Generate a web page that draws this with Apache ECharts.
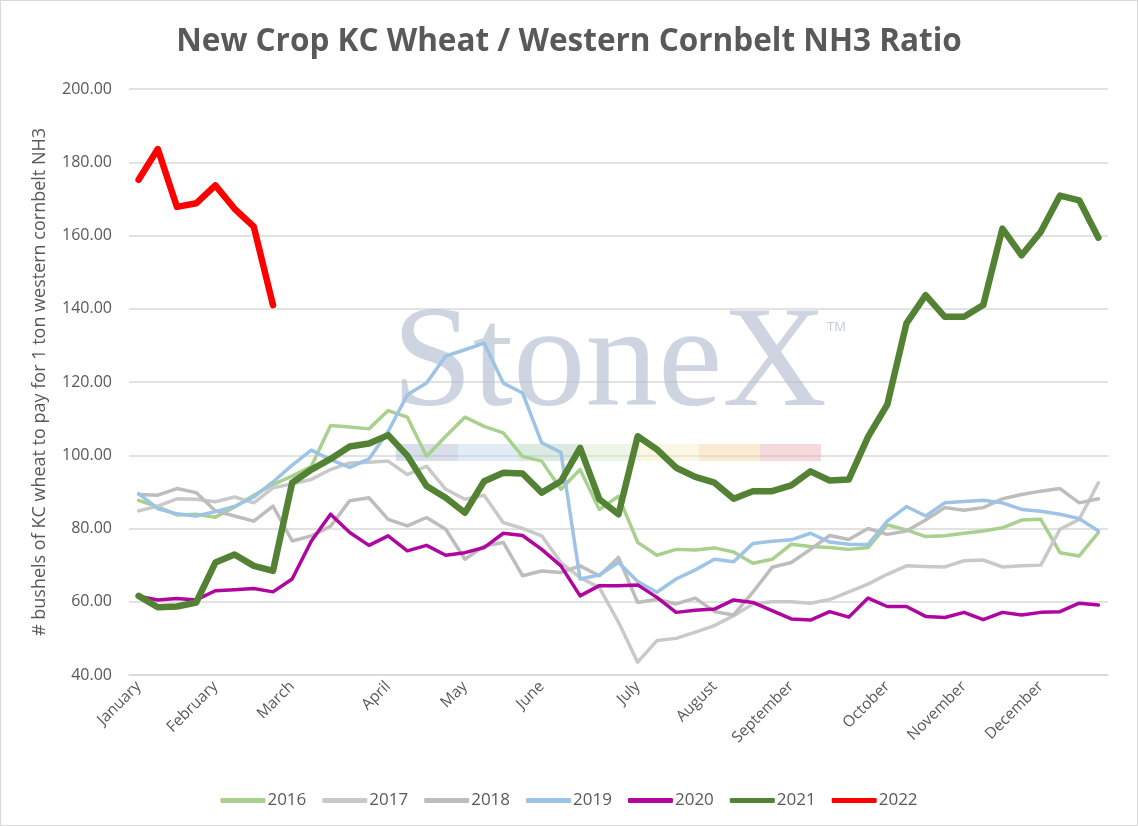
<!DOCTYPE html>
<html>
<head>
<meta charset="utf-8">
<title>New Crop KC Wheat / Western Cornbelt NH3 Ratio</title>
<script src="https://cdn.jsdelivr.net/npm/echarts@6/dist/echarts.min.js"></script>
<style>
    html, body { margin: 0; padding: 0; background: #fff; }
    #main { width: 1138px; height: 826px; box-sizing: border-box; border: 1px solid #d9d9d9; }
</style>
</head>
<body>
<!-- 图表容器 -->
<div id="main"></div>

<script type="text/javascript">

    // 月份标签 及 每个月第一周所在的类目序号
    var months = ['January', 'February', 'March', 'April', 'May', 'June',
        'July', 'August', 'September', 'October', 'November', 'December'];
    var monthStartWeek = [0, 4, 8, 13, 17, 21, 26, 30, 34, 39, 43, 47];
    var weekCount = 51;

    // y轴刻度
    var yMin = 40, yMax = 200, yStep = 20;

    // 各年份数据 (每周一个点)
    var y2016 = [87.7, 85.9, 83.7, 83.9, 83.1, 85.9, 89.1, 92.0, 94.3, 97.0,
        108.1, 107.7, 107.2, 112.2, 110.4, 99.7, 105.2, 110.4, 107.9, 106.1,
        99.7, 98.4, 90.7, 96.1, 85.2, 88.8, 76.2, 72.7, 74.3, 74.1,
        74.7, 73.6, 70.5, 71.6, 75.7, 75.1, 74.8, 74.3, 74.8, 81.0,
        79.6, 77.8, 78.0, 78.7, 79.3, 80.2, 82.3, 82.5, 73.4, 72.5, 78.9];
    var y2017 = [84.8, 86.1, 88.1, 88.0, 87.3, 88.6, 87.0, 91.1, 92.2, 93.4,
        96.1, 97.9, 98.1, 98.4, 94.7, 97.0, 90.7, 88.0, 89.1, 81.6,
        80.0, 78.0, 70.7, 66.6, 63.9, 54.4, 43.5, 49.4, 50.0, 51.7,
        53.5, 56.2, 59.4, 60.0, 60.0, 59.6, 60.6, 62.7, 64.8, 67.5,
        69.8, 69.6, 69.5, 71.2, 71.4, 69.5, 69.8, 70.0, 79.8, 82.5, 92.5];
    var y2018 = [89.3, 89.1, 90.9, 89.8, 84.8, 83.4, 82.0, 86.1, 76.6, 78.0,
        80.6, 87.6, 88.4, 82.5, 80.7, 83.0, 79.8, 71.6, 75.2, 76.2,
        67.1, 68.4, 68.0, 69.8, 67.1, 72.1, 59.8, 60.7, 59.4, 61.0,
        57.3, 56.4, 62.6, 69.4, 70.7, 74.3, 78.1, 77.0, 80.0, 78.4,
        79.3, 82.3, 85.7, 85.0, 85.7, 88.1, 89.3, 90.2, 90.9, 87.0, 88.1];
    var y2019 = [89.5, 85.4, 84.0, 83.4, 84.6, 86.0, 88.6, 92.7, 97.3, 101.4,
        98.8, 96.7, 99.0, 106.5, 116.5, 119.7, 127.1, 128.8, 130.6, 119.7,
        117.0, 103.4, 100.8, 66.2, 67.3, 70.7, 65.5, 62.6, 66.2, 68.7,
        71.6, 70.9, 75.9, 76.5, 76.9, 78.7, 76.3, 75.7, 75.6, 82.0,
        86.0, 83.4, 87.0, 87.4, 87.7, 87.0, 85.2, 84.7, 83.9, 82.7, 79.3];
    var y2020 = [61.5, 60.5, 60.9, 60.5, 63.0, 63.3, 63.6, 62.7, 66.2, 76.6,
        83.9, 78.9, 75.4, 78.0, 73.9, 75.4, 72.7, 73.4, 74.8, 78.7,
        78.1, 74.3, 69.8, 61.6, 64.4, 64.4, 64.6, 61.2, 57.1, 57.7,
        58.0, 60.5, 59.8, 57.6, 55.3, 55.0, 57.3, 55.8, 61.0, 58.7,
        58.7, 56.0, 55.7, 57.1, 55.1, 57.1, 56.4, 57.1, 57.3, 59.6, 59.1];
    var y2021 = [61.6, 58.5, 58.7, 59.8, 70.7, 72.9, 69.8, 68.4, 92.5, 96.1,
        99.0, 102.4, 103.2, 105.5, 99.9, 91.6, 88.4, 84.3, 92.9, 95.2,
        95.0, 89.8, 92.9, 102.0, 88.0, 83.9, 105.2, 101.6, 96.6, 94.1,
        92.5, 88.1, 90.2, 90.2, 91.8, 95.6, 93.1, 93.4, 105.0, 113.8,
        136.0, 143.7, 137.8, 137.8, 141.0, 161.9, 154.6, 161.0, 170.9, 169.6, 159.4];
    var y2022 = [175.2, 183.6, 167.8, 168.8, 173.7, 167.3, 162.4, 141.0];

    // 类目: 每周一个, 只在每月第一周显示月份名
    var categories = [];
    for (var i = 0; i < weekCount; i++) {
        var m = monthStartWeek.indexOf(i);
        categories.push(m >= 0 ? months[m] : '');
    }

    function lineSeries(name, data, color, width) {
        return {
            name: name,
            type: 'line',
            data: data,
            symbol: 'none',
            smooth: false,
            lineStyle: { color: color, width: width, cap: 'round', join: 'round' },
            itemStyle: { color: color },
            emphasis: { disabled: true }
        };
    }

    var myChart = echarts.init(document.getElementById('main'));

    var textColor = '#595959';
    var font = '"Open Sans", "Noto Sans", sans-serif';

    var option = {
        animation: false,
        backgroundColor: '#ffffff',
        title: {
            text: 'New Crop KC Wheat / Western Cornbelt NH3 Ratio',
            left: 'center',
            top: 20,
            textStyle: { fontFamily: font, fontSize: 31.5, fontWeight: 'bold', color: textColor }
        },
        // StoneX 水印
        graphic: [
            {
                type: 'text', z: 1, silent: true,
                style: {
                    text: 'StoneX', x: 391, y: 366,
                    font: '145px "Liberation Serif", "DejaVu Serif", serif',
                    fill: 'rgba(176,188,206,0.62)', verticalAlign: 'middle'
                }
            },
            {
                type: 'text', z: 1, silent: true,
                style: { text: 'TM', x: 826, y: 326, font: '13px "Open Sans", sans-serif', fill: 'rgba(176,188,206,0.8)', verticalAlign: 'middle' }
            },
            { type: 'rect', z: 1, silent: true, shape: { x: 395, y: 443, width: 62, height: 17 }, style: { fill: 'rgba(170,185,208,0.45)' } },
            { type: 'rect', z: 1, silent: true, shape: { x: 457, y: 443, width: 60, height: 17 }, style: { fill: 'rgba(190,212,235,0.45)' } },
            { type: 'rect', z: 1, silent: true, shape: { x: 517, y: 443, width: 61, height: 17 }, style: { fill: 'rgba(175,210,190,0.45)' } },
            { type: 'rect', z: 1, silent: true, shape: { x: 578, y: 443, width: 61, height: 17 }, style: { fill: 'rgba(215,232,200,0.45)' } },
            { type: 'rect', z: 1, silent: true, shape: { x: 639, y: 443, width: 59, height: 17 }, style: { fill: 'rgba(245,240,190,0.45)' } },
            { type: 'rect', z: 1, silent: true, shape: { x: 698, y: 443, width: 61, height: 17 }, style: { fill: 'rgba(248,215,170,0.5)' } },
            { type: 'rect', z: 1, silent: true, shape: { x: 759, y: 443, width: 61, height: 17 }, style: { fill: 'rgba(235,170,180,0.45)' } }
        ],
        legend: {
            top: 786,
            left: 'center',
            itemWidth: 45,
            itemHeight: 5,
            itemGap: 16,
            icon: 'roundRect',
            textStyle: { fontFamily: font, fontSize: 17, color: textColor, padding: [0, 0, 0, -3] },
            data: ['2016', '2017', '2018', '2019', '2020', '2021', '2022']
        },
        grid: { left: 128, right: 29, top: 88, bottom: 150, containLabel: false },
        xAxis: {
            type: 'category',
            boundaryGap: true,
            data: categories,
            axisLine: { show: true, lineStyle: { color: '#d9d9d9', width: 1.5 } },
            axisTick: { show: false },
            axisLabel: {
                interval: 0,
                rotate: 45,
                margin: 9,
                fontFamily: font,
                fontSize: 15.5,
                color: textColor
            }
        },
        yAxis: {
            type: 'value',
            min: yMin,
            max: yMax,
            interval: yStep,
            name: '# bushels of KC wheat to pay for 1 ton western cornbelt NH3',
            nameLocation: 'middle',
            nameGap: 80,
            nameTextStyle: { fontFamily: font, fontSize: 18, color: textColor },
            axisLine: { show: false },
            axisTick: { show: false },
            axisLabel: {
                margin: 17,
                fontFamily: font,
                fontSize: 16,
                color: textColor,
                formatter: function (v) { return v.toFixed(2); }
            },
            splitLine: { lineStyle: { color: '#d9d9d9', width: 1.5 } }
        },
        series: [
            lineSeries('2016', y2016, '#a9d18e', 3.5),
            lineSeries('2017', y2017, '#c9c9c9', 3.5),
            lineSeries('2018', y2018, '#bdbdbd', 3.5),
            lineSeries('2019', y2019, '#9dc3e6', 3.5),
            lineSeries('2020', y2020, '#b0069f', 3.5),
            lineSeries('2021', y2021, '#548235', 6.5),
            lineSeries('2022', y2022, '#ff0000', 6.5)
        ]
    };

    myChart.setOption(option);

</script>
</body>
</html>
